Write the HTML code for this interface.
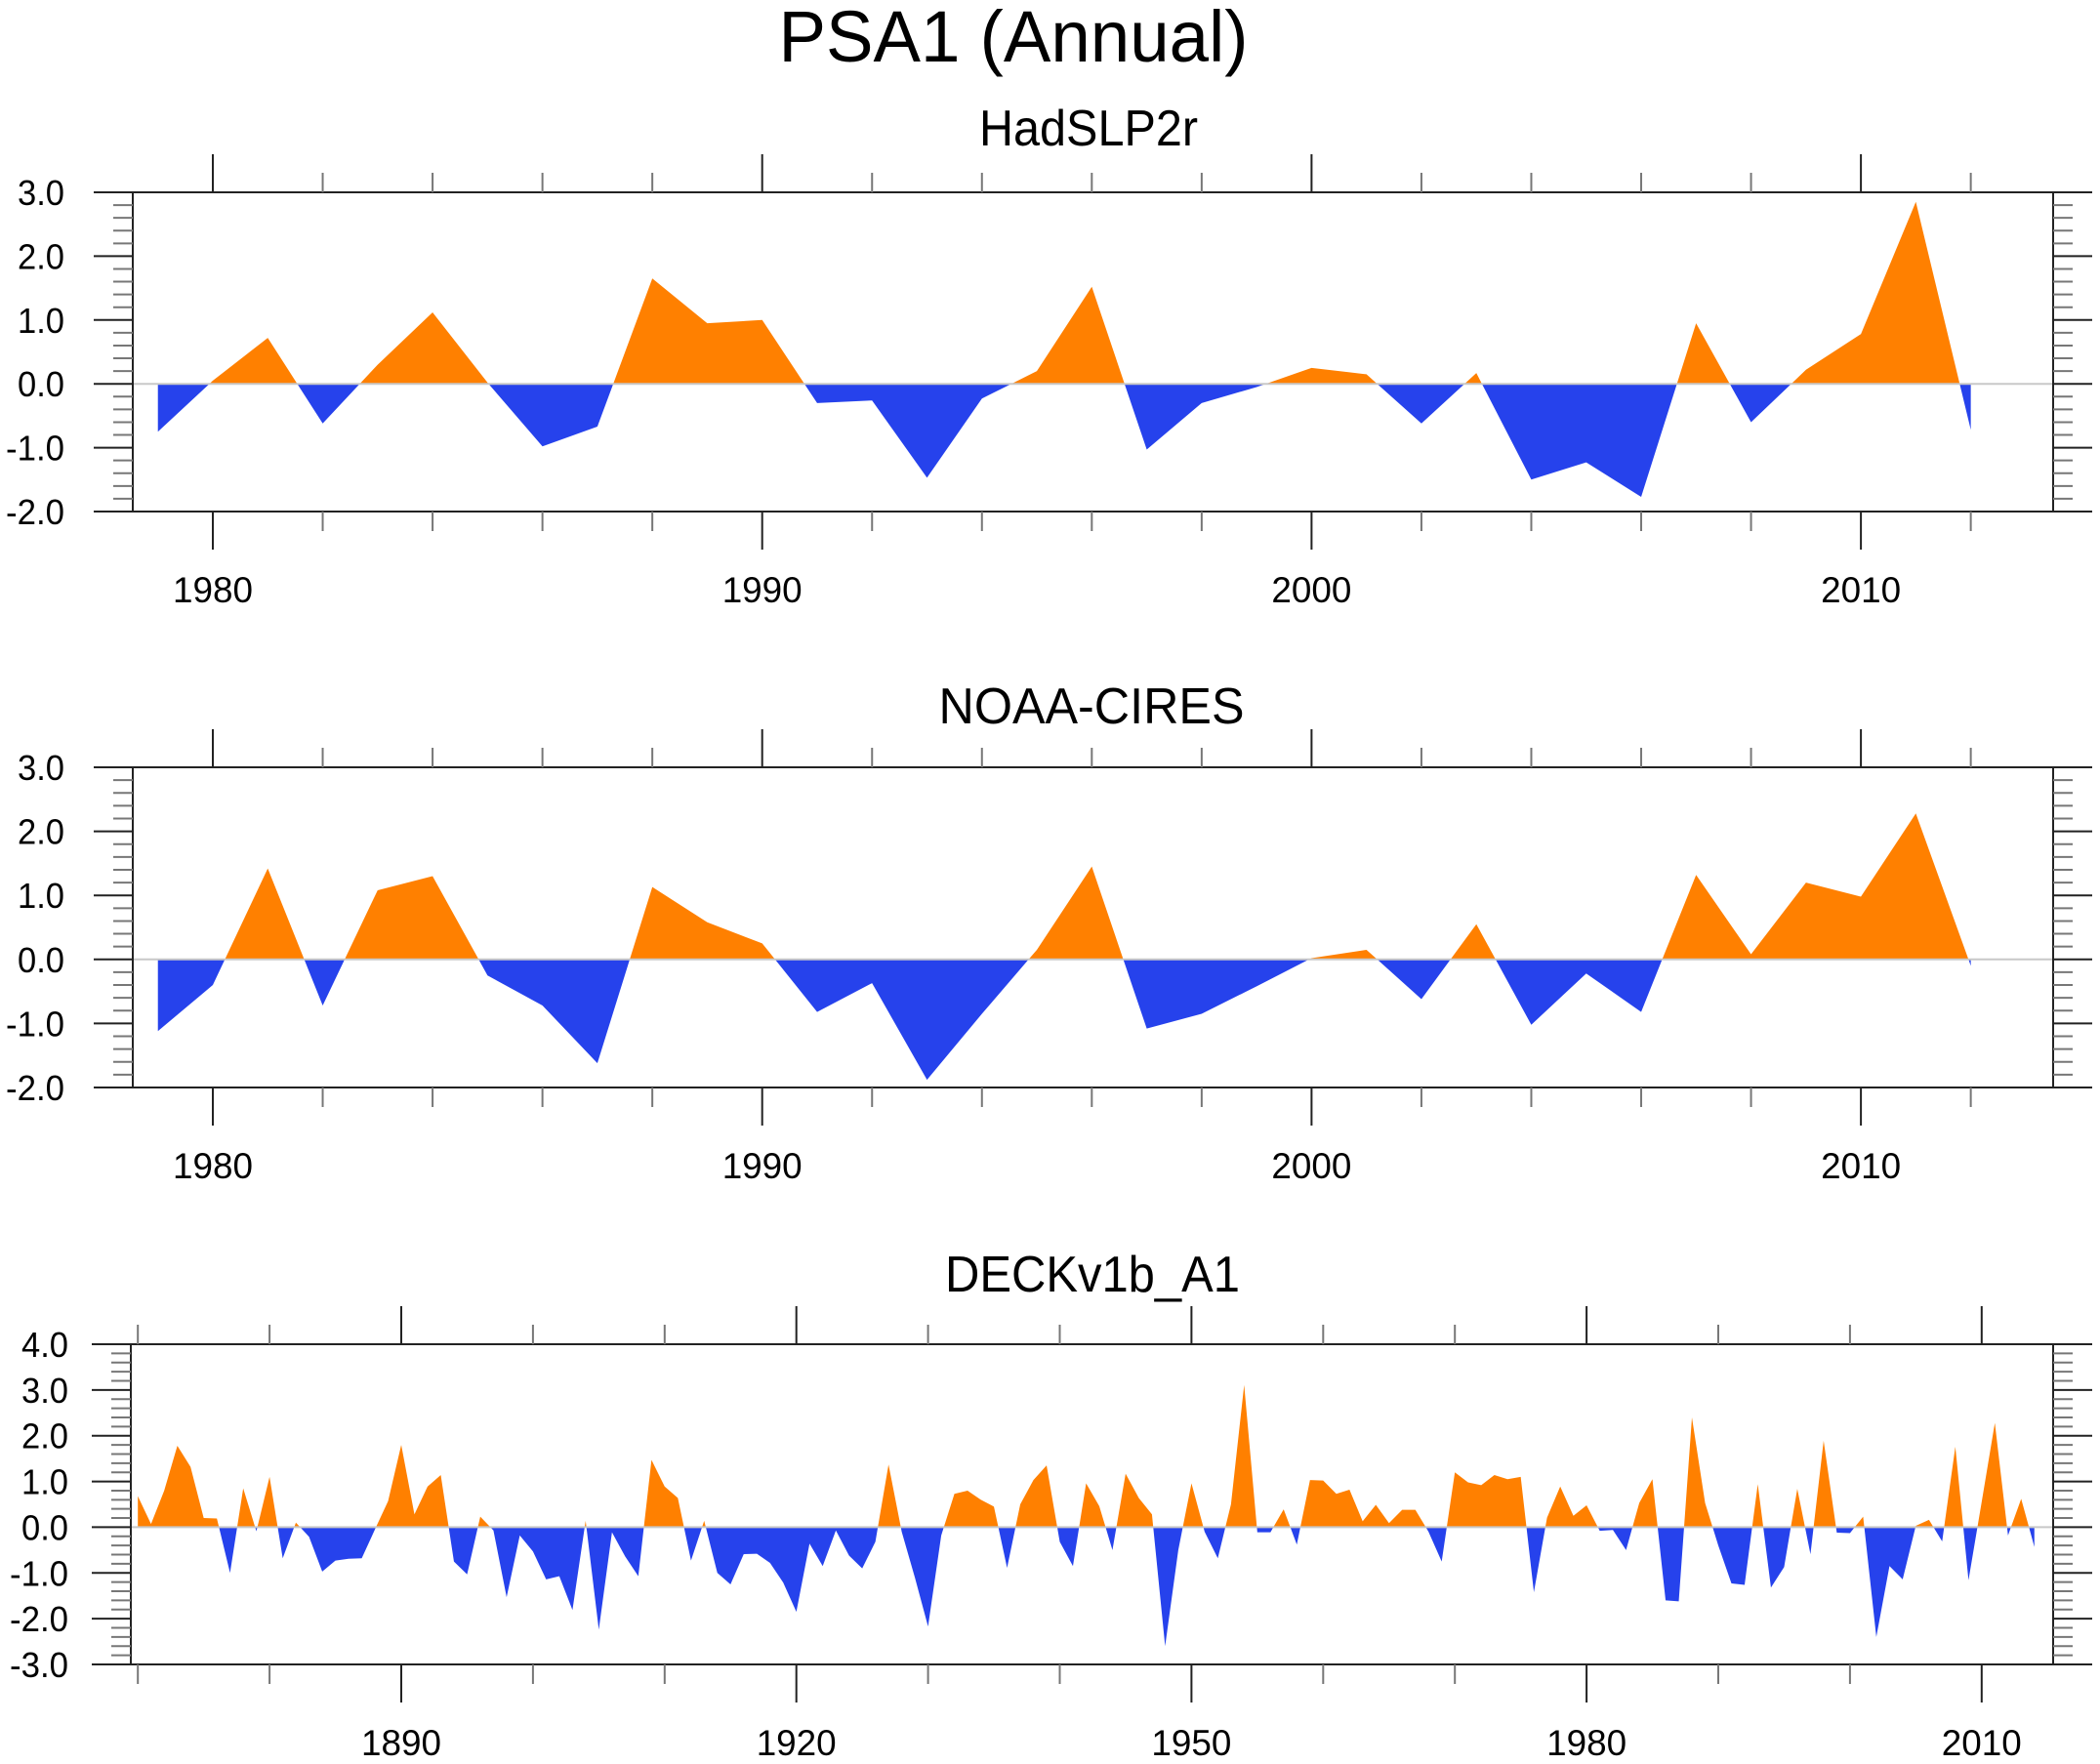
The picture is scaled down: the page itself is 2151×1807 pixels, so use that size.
<!DOCTYPE html>
<html><head><meta charset="utf-8">
<style>
html,body{margin:0;padding:0;background:#fff;}
svg{display:block;font-family:"Liberation Sans",sans-serif;}
</style></head>
<body>
<svg id="chart" width="2151" height="1807" viewBox="0 0 2151 1807" xmlns="http://www.w3.org/2000/svg">
<text x="1038" y="63" font-size="74" text-anchor="middle" textLength="481" lengthAdjust="spacingAndGlyphs">PSA1 (Annual)</text>
</svg>
<script>
// ---- data ----
const hadYears = [1979,1980,1981,1982,1983,1984,1985,1986,1987,1988,1989,1990,1991,1992,1993,1994,1995,1996,1997,1998,1999,2000,2001,2002,2003,2004,2005,2006,2007,2008,2009,2010,2011,2012];
const hadValues = [-0.75,0.05,0.72,-0.62,0.3,1.12,0.02,-0.98,-0.67,1.65,0.95,1.0,-0.3,-0.26,-1.47,-0.23,0.2,1.52,-1.03,-0.3,-0.05,0.25,0.15,-0.62,0.17,-1.5,-1.23,-1.77,0.95,-0.6,0.22,0.78,2.85,-0.72];
const noaaYears = hadYears;
const noaaValues = [-1.12,-0.4,1.42,-0.72,1.08,1.3,-0.25,-0.72,-1.62,1.13,0.58,0.25,-0.82,-0.37,-1.88,-0.85,0.15,1.45,-1.08,-0.85,-0.42,0.02,0.15,-0.62,0.55,-1.02,-0.22,-0.82,1.32,0.08,1.2,0.98,2.28,-0.1];
const deckStartYear = 1870;
const deckValues = [0.68,0.07,0.8,1.78,1.32,0.2,0.19,-1.0,0.85,-0.09,
 1.1,-0.68,0.1,-0.21,-0.97,-0.73,-0.69,-0.68,-0.05,0.57,
 1.8,0.28,0.89,1.14,-0.75,-1.03,0.23,-0.07,-1.53,-0.18,
 -0.53,-1.14,-1.07,-1.81,0.14,-2.24,-0.11,-0.64,-1.07,1.47,
 0.89,0.64,-0.73,0.14,-1.0,-1.25,-0.59,-0.58,-0.78,-1.21,
 -1.85,-0.36,-0.85,-0.07,-0.62,-0.9,-0.32,1.37,-0.1,-1.1,
 -2.17,-0.18,0.73,0.8,0.6,0.45,-0.89,0.5,1.03,1.35,
 -0.32,-0.85,0.96,0.46,-0.5,1.17,0.64,0.28,-2.6,-0.5,
 0.96,-0.1,-0.68,0.5,3.11,-0.11,-0.11,0.39,-0.38,1.03,
 1.02,0.73,0.82,0.13,0.49,0.09,0.38,0.38,-0.1,-0.75,
 1.2,0.98,0.92,1.14,1.05,1.1,-1.42,0.21,0.89,0.25,
 0.48,-0.08,-0.06,-0.5,0.53,1.05,-1.6,-1.62,2.4,0.53,
 -0.4,-1.23,-1.26,0.94,-1.32,-0.87,0.84,-0.59,1.89,-0.12,
 -0.13,0.23,-2.4,-0.85,-1.14,0.03,0.16,-0.31,1.76,-1.16,
 0.55,2.28,-0.18,0.62,-0.43];
const deckYears = deckValues.map((v,i)=>deckStartYear+i);
const yTicks12 = ["3.0","2.0","1.0","0.0","-1.0","-2.0"];
const yTicks3 = ["4.0","3.0","2.0","1.0","0.0","-1.0","-2.0","-3.0"];
const xLabels12 = [1980,1990,2000,2010];
const xLabels3 = [1890,1920,1950,1980,2010];

// ---- rendering ----
const NS="http://www.w3.org/2000/svg";
const svg=document.getElementById('chart');
const ORANGE="#ff8000", BLUE="#2642ec";
function mk(tag,attrs,parent){const e=document.createElementNS(NS,tag);for(const k in attrs)e.setAttribute(k,attrs[k]);(parent||svg).appendChild(e);return e;}

function panel(cfg){
  const g=mk('g',{});
  
  
  const {L,R,T,B,ymin,ymax,x0,y0,pxYear}=cfg;
  const xs=yr=>x0+(yr-y0)*pxYear;
  const ys=v=>T+(ymax-v)/(ymax-ymin)*(B-T);
  // fill polygons
  const pts=[];
  for(let i=0;i<cfg.years.length;i++){
    const v=cfg.values[i];
    pts.push([xs(cfg.years[i]),v]);
    if(i<cfg.years.length-1){
      const w=cfg.values[i+1];
      if((v>0&&w<0)||(v<0&&w>0)){
        const t=v/(v-w);
        pts.push([xs(cfg.years[i])+t*(xs(cfg.years[i+1])-xs(cfg.years[i])),0]);
      }
    }
  }
  const z=ys(0);
  const first=pts[0][0], last=pts[pts.length-1][0];
  const pos=pts.map(p=>p[0].toFixed(2)+','+ys(Math.max(p[1],0)).toFixed(2)).join(' ')+' '+last.toFixed(2)+','+z+' '+first.toFixed(2)+','+z;
  const neg=pts.map(p=>p[0].toFixed(2)+','+ys(Math.min(p[1],0)).toFixed(2)).join(' ')+' '+last.toFixed(2)+','+z+' '+first.toFixed(2)+','+z;
  const pp=mk('polygon',{points:pos,fill:ORANGE},g);
  
  
  const np=mk('polygon',{points:neg,fill:BLUE},g);
  
  
  // zero line
  const zl=mk('line',{x1:L,x2:R,y1:z,y2:z,stroke:'#c8c8c8','stroke-width':2},g);
  
  
  // frame
  const fr=mk('rect',{x:L,y:T,width:R-L,height:B-T,fill:'none',stroke:'#222','stroke-width':2},g);
  
  
  // y ticks
  const nMin=Math.round((ymax-ymin)/0.2);
  for(let k=0;k<=nMin;k++){
    const v=ymax-k*0.2, y=ys(v), major=(k%5===0);
    const len=major?40:20;
    mk('line',{x1:L-len,x2:L,y1:y,y2:y,stroke:major?'#222':'#777','stroke-width':2},g);
    mk('line',{x1:R,x2:R+len,y1:y,y2:y,stroke:major?'#222':'#777','stroke-width':2},g);
  }
  cfg.yLabels.forEach((s,i)=>{
    const v=ymax-i, y=ys(v);
    const t=mk('text',{x:cfg.labRight,y:y+13,'font-size':36,'text-anchor':'end',textLength:s.length===3?48:60,lengthAdjust:'spacingAndGlyphs'},g);
    t.textContent=s;
    
    
  });
  // x ticks
  for(let yr=cfg.tickStart;yr<=cfg.tickEnd;yr+=cfg.minorStep){
    const x=xs(yr); if(x<L||x>R) continue;
    const major=((yr-cfg.majorBase)%cfg.majorStep===0);
    const len=major?39:20;
    mk('line',{x1:x,x2:x,y1:T-len,y2:T,stroke:major?'#222':'#777','stroke-width':2},g);
    mk('line',{x1:x,x2:x,y1:B,y2:B+len,stroke:major?'#222':'#777','stroke-width':2},g);
  }
  cfg.xLabels.forEach(yr=>{
    const t=mk('text',{x:xs(yr),y:B+93,'font-size':37,'text-anchor':'middle',textLength:82,lengthAdjust:'spacingAndGlyphs'},g);
    t.textContent=String(yr);
    
    
  });
  const tt=mk('text',{x:cfg.titleX,y:cfg.titleY,'font-size':52,'text-anchor':'middle',textLength:cfg.titleW,lengthAdjust:'spacingAndGlyphs'},g);
  tt.textContent=cfg.title;
  
  
}

panel({name:'hadslp2r',title:'HadSLP2r',titleX:1115,titleY:149,titleW:224,L:136,R:2103,T:197,B:524,ymin:-2,ymax:3,x0:218,y0:1980,pxYear:56.27,
  years:hadYears,values:hadValues,yLabels:yTicks12,labRight:66,xLabels:xLabels12,tickStart:1976,tickEnd:2014,minorStep:2,majorStep:10,majorBase:1980});
panel({name:'noaa-cires',title:'NOAA-CIRES',titleX:1118,titleY:741,titleW:313,L:136,R:2103,T:786,B:1114,ymin:-2,ymax:3,x0:218,y0:1980,pxYear:56.27,
  years:noaaYears,values:noaaValues,yLabels:yTicks12,labRight:66,xLabels:xLabels12,tickStart:1976,tickEnd:2014,minorStep:2,majorStep:10,majorBase:1980});
panel({name:'deckv1b-a1',title:'DECKv1b_A1',titleX:1119,titleY:1323,titleW:302,L:134,R:2103,T:1377,B:1705,ymin:-3,ymax:4,x0:411,y0:1890,pxYear:13.49,
  years:deckYears,values:deckValues,yLabels:yTicks3,labRight:70,xLabels:xLabels3,tickStart:1870,tickEnd:2020,minorStep:10,majorStep:30,majorBase:1890});
</script>
</body></html>
